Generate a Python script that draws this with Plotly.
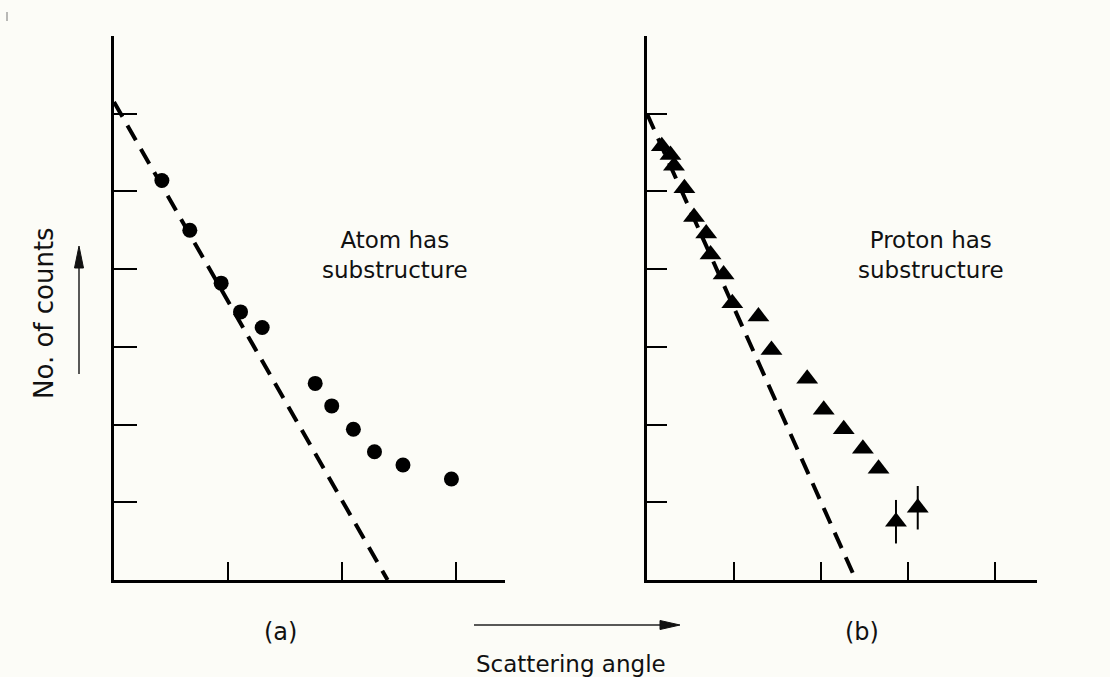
import plotly.graph_objects as go

# ---------------- data ----------------
# Panel (a): atom scattering (circles)
atom_angle = [0.42, 0.665, 0.94, 1.11, 1.30, 1.765, 1.91, 2.10, 2.285, 2.535, 2.96]
atom_counts = [5.14, 4.50, 3.82, 3.45, 3.25, 2.53, 2.24, 1.94, 1.65, 1.48, 1.30]
atom_fit_angle = [0.0, 2.40]
atom_fit_counts = [6.15, 0.0]

# Panel (b): proton scattering (triangles)
proton_angle = [0.17, 0.27, 0.31, 0.43, 0.54, 0.68, 0.73, 0.88, 0.98, 1.28, 1.43,
                1.84, 2.03, 2.26, 2.48, 2.66, 2.86, 3.11]
proton_counts = [5.58, 5.47, 5.33, 5.04, 4.67, 4.46, 4.19, 3.93, 3.56, 3.39, 2.96,
                 2.59, 2.19, 1.94, 1.69, 1.43, 0.75, 0.93]
proton_err = [0, 0, 0, 0, 0, 0, 0, 0, 0, 0, 0, 0, 0, 0, 0, 0, 0.28, 0.28]
proton_fit_angle = [0.0, 2.40]
proton_fit_counts = [6.0, 0.0]

y_ticks = [1, 2, 3, 4, 5, 6, 7]
x_ticks_a = [1, 2, 3]
x_ticks_b = [1, 2, 3, 4]

panel_labels = ["(a)", "(b)"]
panel_notes = ["Atom has<br>substructure", "Proton has<br>substructure"]
x_title = "Scattering angle"
y_title = "No. of counts"

# ---------------- figure ----------------
W, H = 1110, 677
BG = "#fcfcf7"
FONT = "DejaVu Sans"


def px(xp):
    return xp / W


def py(yp):
    return (H - yp) / H


fig = go.Figure()

dash = "17px,10px"
fig.add_trace(go.Scatter(x=atom_fit_angle, y=atom_fit_counts, mode="lines",
                         line=dict(color="black", width=4, dash=dash),
                         xaxis="x", yaxis="y", showlegend=False))
fig.add_trace(go.Scatter(x=atom_angle, y=atom_counts, mode="markers",
                         marker=dict(symbol="circle", size=15, color="black"),
                         xaxis="x", yaxis="y", showlegend=False))

fig.add_trace(go.Scatter(x=proton_fit_angle, y=proton_fit_counts, mode="lines",
                         line=dict(color="black", width=4, dash=dash),
                         xaxis="x2", yaxis="y2", showlegend=False))
fig.add_trace(go.Scatter(x=proton_angle, y=proton_counts, mode="markers",
                         marker=dict(symbol="triangle-up", size=19, color="black"),
                         error_y=dict(type="data", array=proton_err, visible=True,
                                      color="black", thickness=2, width=0),
                         xaxis="x2", yaxis="y2", showlegend=False))

axis_common = dict(showgrid=False, zeroline=False, showline=True, linecolor="black",
                   linewidth=2.5, ticks="inside", tickcolor="black", tickwidth=2,
                   showticklabels=False, fixedrange=True)

ydom = [py(580), py(36)]
fig.update_layout(
    width=W, height=H,
    margin=dict(l=0, r=0, t=0, b=0),
    paper_bgcolor=BG, plot_bgcolor=BG,
    font=dict(family=FONT, color="#111111"),
    xaxis=dict(domain=[px(114), px(505)], range=[0, 3.43], tickvals=x_ticks_a,
               ticklen=18, anchor="y", **axis_common),
    yaxis=dict(domain=ydom, range=[0, 7], tickvals=y_ticks, ticklen=23,
               anchor="x", **axis_common),
    xaxis2=dict(domain=[px(647), px(1037)], range=[0, 4.48], tickvals=x_ticks_b,
                ticklen=18, anchor="y2", **axis_common),
    yaxis2=dict(domain=ydom, range=[0, 7], tickvals=y_ticks, ticklen=20,
                anchor="x2", **axis_common),
)


def label(text, xp, yp, size, **kw):
    return dict(text=text, x=px(xp), y=py(yp), xref="paper", yref="paper",
                xanchor="center", yanchor="middle", showarrow=False,
                font=dict(size=size, family=FONT), align="center", **kw)


annotations = [
    label(panel_notes[0], 395, 255, 23),
    label(panel_notes[1], 931, 255, 23),
    label(panel_labels[0], 280, 632, 24),
    label(panel_labels[1], 862, 632, 24),
    label(x_title, 571, 664, 23),
    label(y_title, 44, 313, 26, textangle=-90),
]
fig.update_layout(annotations=annotations)

shapes = [
    # vertical arrow (counts)
    dict(type="line", xref="paper", yref="paper", x0=px(79), x1=px(79),
         y0=py(374), y1=py(262), line=dict(color="#222222", width=1.5)),
    dict(type="path", xref="paper", yref="paper",
         path=f"M {px(79)} {py(246)} L {px(74.5)} {py(268)} L {px(83.5)} {py(268)} Z",
         fillcolor="#111111", line=dict(color="#111111", width=1)),
    # horizontal arrow (angle)
    dict(type="line", xref="paper", yref="paper", x0=px(474), x1=px(665),
         y0=py(625), y1=py(625), line=dict(color="#222222", width=1.5)),
    dict(type="path", xref="paper", yref="paper",
         path=f"M {px(680)} {py(625)} L {px(660)} {py(620.5)} L {px(660)} {py(629.5)} Z",
         fillcolor="#111111", line=dict(color="#111111", width=1)),
    # small stray mark top-left
    dict(type="line", xref="paper", yref="paper", x0=px(7), x1=px(7),
         y0=py(12), y1=py(21), line=dict(color="#777777", width=1)),
]
fig.update_layout(shapes=shapes)

fig.write_html(
    "out.html",
    config={"displayModeBar": False},
    post_script="document.body.style.margin='0px';"
                "document.body.style.background='#fcfcf7';",
)
